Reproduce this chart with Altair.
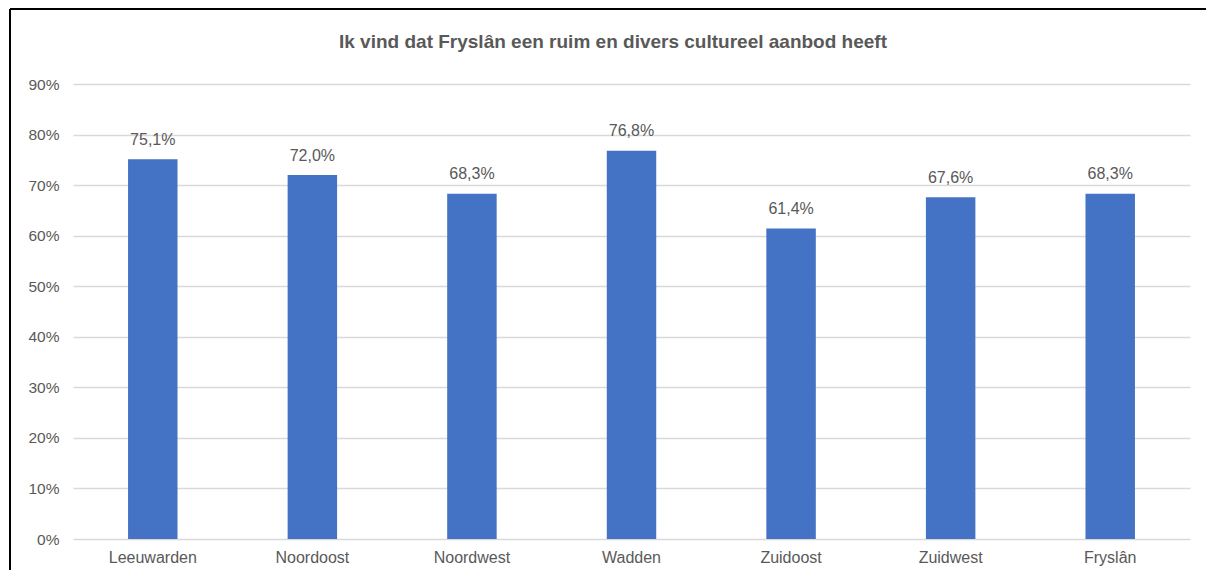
import altair as alt
import pandas as pd

regions = ["Leeuwarden", "Noordoost", "Noordwest", "Wadden", "Zuidoost", "Zuidwest", "Fryslân"]
values = [75.1, 72.0, 68.3, 76.8, 61.4, 67.6, 68.3]
y_ticks = [0, 10, 20, 30, 40, 50, 60, 70, 80, 90]
chart_title = "Ik vind dat Fryslân een ruim en divers cultureel aanbod heeft"

FONT = "Liberation Sans"
GREY = "#595959"

df = pd.DataFrame({"regio": regions, "pct": values})

base = alt.Chart(df).encode(
    x=alt.X(
        "regio:N",
        sort=regions,
        scale=alt.Scale(paddingInner=0.69, paddingOuter=0.345),
        axis=alt.Axis(
            title=None, labelAngle=0, ticks=False, domain=False,
            labelFontSize=16, labelColor=GREY, labelFont=FONT, labelPadding=10,
        ),
    ),
    y=alt.Y(
        "pct:Q",
        scale=alt.Scale(domain=[0, 90], nice=False),
        axis=alt.Axis(
            values=y_ticks, title=None, labelExpr="datum.value + '%'",
            ticks=False, domain=False, grid=True, gridColor="#D9D9D9", gridWidth=1.3,
            labelFontSize=15.5, labelColor=GREY, labelFont=FONT, labelPadding=14,
        ),
    ),
)

bars = base.mark_bar(color="#4472C4")

labels = base.transform_calculate(
    lbl="replace(format(datum.pct, '.1f'), '.', ',') + '%'"
).mark_text(
    baseline="bottom", dy=-11.5, fontSize=16, font=FONT, color=GREY
).encode(text="lbl:N")

one_row = pd.DataFrame({"k": [0]})
left_border = alt.Chart(one_row).mark_rule(color="black", strokeWidth=2).encode(
    x=alt.value(-63), y=alt.value(-75), y2=alt.value(486)
)
top_border = alt.Chart(one_row).mark_rule(color="black", strokeWidth=2).encode(
    x=alt.value(-63), x2=alt.value(1133), y=alt.value(-75)
)
title_mark = alt.Chart(one_row).mark_text(
    fontSize=19, fontWeight="bold", color=GREY, font=FONT, align="center", baseline="middle"
).encode(x=alt.value(540), y=alt.value(-42), text=alt.value(chart_title))

chart = alt.layer(bars, labels, left_border, top_border, title_mark).properties(
    width=1117,
    height=455,
    padding={"left": 1, "top": 0, "right": 0, "bottom": 0},
).configure(background="white").configure_view(stroke=None)

chart.save("out.html", embed_options={"renderer": "svg", "actions": False})
